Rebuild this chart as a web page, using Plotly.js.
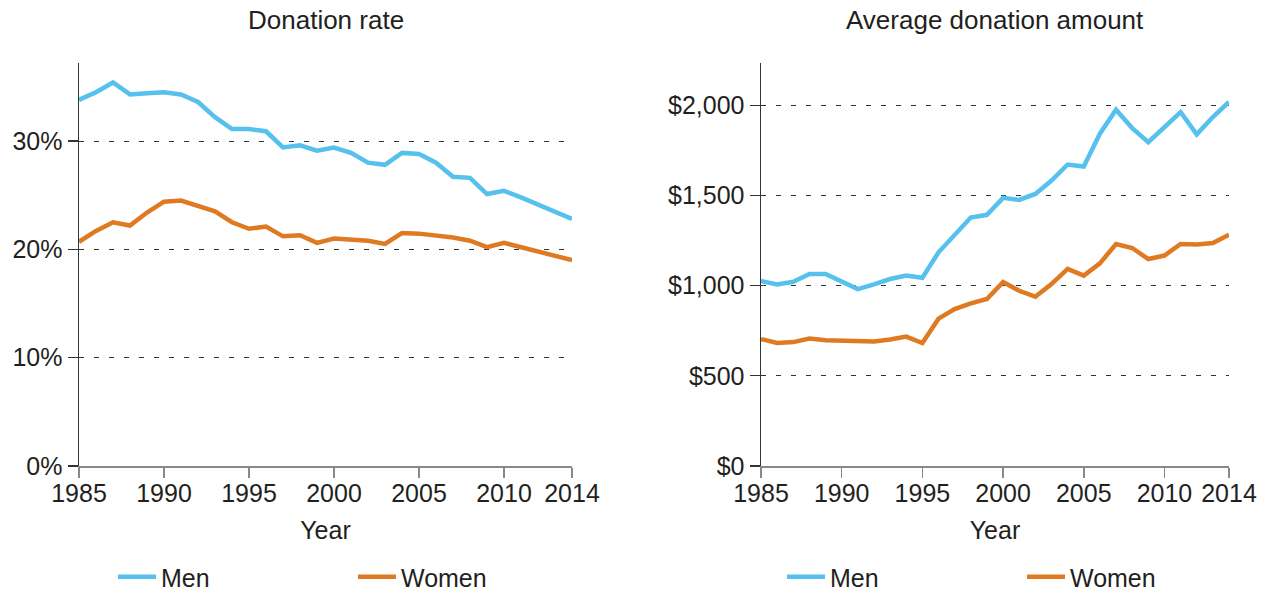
<!DOCTYPE html>
<html>
<head>
<meta charset="utf-8">
<script src="https://cdn.plot.ly/plotly-3.0.1.min.js"></script>
<style>html,body{margin:0;padding:0;background:#fff;}#chart{width:1270px;height:590px;}</style>
</head>
<body>
<div id="chart"></div>
<script>
const years = [1985,1986,1987,1988,1989,1990,1991,1992,1993,1994,1995,1996,1997,1998,1999,2000,2001,2002,2003,2004,2005,2006,2007,2008,2009,2010,2011,2012,2013,2014];
const rateMen   = [33.8,34.5,35.4,34.3,34.4,34.5,34.3,33.6,32.2,31.1,31.1,30.9,29.4,29.6,29.1,29.4,28.9,28.0,27.8,28.9,28.8,28.0,26.7,26.6,25.1,25.4,24.8,24.1,23.4,22.8];
const rateWomen = [20.7,21.7,22.5,22.2,23.4,24.4,24.5,24.0,23.5,22.5,21.9,22.1,21.2,21.3,20.6,21.0,20.9,20.8,20.5,21.5,21.45,21.3,21.1,20.8,20.2,20.6,20.2,19.7,19.35,19.0];
const amtMen    = [1026,1007,1022,1065,1065,1022,981,1007,1037,1056,1044,1185,1278,1378,1393,1487,1476,1509,1583,1672,1661,1843,1976,1874,1796,1880,1963,1839,1935,2019];
const amtWomen  = [704,682,687,707,698,694,694,691,702,718,682,817,870,902,926,1020,972,939,1009,1093,1056,1124,1231,1209,1148,1167,1231,1228,1237,1283];
const xTicks = [1985,1990,1995,2000,2005,2010,2014];
const rateTicks = [0,10,20,30];
const amtTicks = [0,500,1000,1500,2000];

const cMen = '#56C1EC', cWomen = '#E07A22';
const font = {family:'Liberation Sans, Arial, sans-serif', color:'#231F20', size:25};

const traces = [
  {x:years, y:rateMen, name:'Men', mode:'lines', line:{color:cMen,width:4.5}, xaxis:'x', yaxis:'y', legend:'legend'},
  {x:years, y:rateWomen, name:'Women', mode:'lines', line:{color:cWomen,width:4.5}, xaxis:'x', yaxis:'y', legend:'legend'},
  {x:years, y:amtMen, name:'Men', mode:'lines', line:{color:cMen,width:4.5}, xaxis:'x2', yaxis:'y2', legend:'legend2'},
  {x:years, y:amtWomen, name:'Women', mode:'lines', line:{color:cWomen,width:4.5}, xaxis:'x2', yaxis:'y2', legend:'legend2'}
];

const xBase = {range:[1985,2014], tickvals:xTicks, ticktext:xTicks.map(String), showline:true, linecolor:'#888', linewidth:1.5,
  ticks:'outside', ticklen:10, tickcolor:'#888', tickwidth:1.5, showgrid:false, zeroline:false, tickfont:{size:25},
  ticklabelstandoff:-6,
  title:{text:'Year', font:{size:25}, standoff:16}, automargin:false};
const yBase = {showline:true, linecolor:'#333', linewidth:1.5, ticks:'outside', ticklen:10, tickcolor:'#333', tickwidth:1.2,
  showgrid:true, gridcolor:'#333', griddash:'5px,10px', gridwidth:1, zeroline:false, tickfont:{size:25}, automargin:false};

const layout = {
  width:1270, height:590, paper_bgcolor:'#fff', plot_bgcolor:'#fff', font:font,
  margin:{l:0,r:0,t:0,b:0,autoexpand:false},
  showlegend:true,
  xaxis:Object.assign({}, xBase, {domain:[79/1270, 572/1270], anchor:'y'}),
  yaxis:Object.assign({}, yBase, {domain:[1-466/590, 1-63/590], range:[0,37.2], tickvals:rateTicks, ticktext:rateTicks.map(v=>v+'%'), anchor:'x'}),
  xaxis2:Object.assign({}, xBase, {domain:[761/1270, 1229/1270], anchor:'y2'}),
  yaxis2:Object.assign({}, yBase, {domain:[1-466/590, 1-63/590], range:[0,2235], tickvals:amtTicks, ticktext:amtTicks.map(v=>'$'+v.toLocaleString('en-US')), anchor:'x2'}),
  legend:{orientation:'h', x:113/1270, y:1-577/590, xanchor:'left', yanchor:'middle', entrywidth:187, entrywidthmode:'pixels', itemwidth:38, font:{size:25}, bgcolor:'rgba(0,0,0,0)'},
  legend2:{orientation:'h', x:782/1270, y:1-577/590, xanchor:'left', yanchor:'middle', entrywidth:187, entrywidthmode:'pixels', itemwidth:38, font:{size:25}, bgcolor:'rgba(0,0,0,0)'},
  annotations:[
    {text:'Donation rate', x:325.5/1270, y:1-20/590, xref:'paper', yref:'paper', showarrow:false, xanchor:'center', yanchor:'middle', font:{size:26}},
    {text:'Average donation amount', x:995/1270, y:1-20/590, xref:'paper', yref:'paper', showarrow:false, xanchor:'center', yanchor:'middle', font:{size:26}}
  ]
};
Plotly.newPlot('chart', traces, layout, {displayModeBar:false, staticPlot:true});
</script>
</body>
</html>
